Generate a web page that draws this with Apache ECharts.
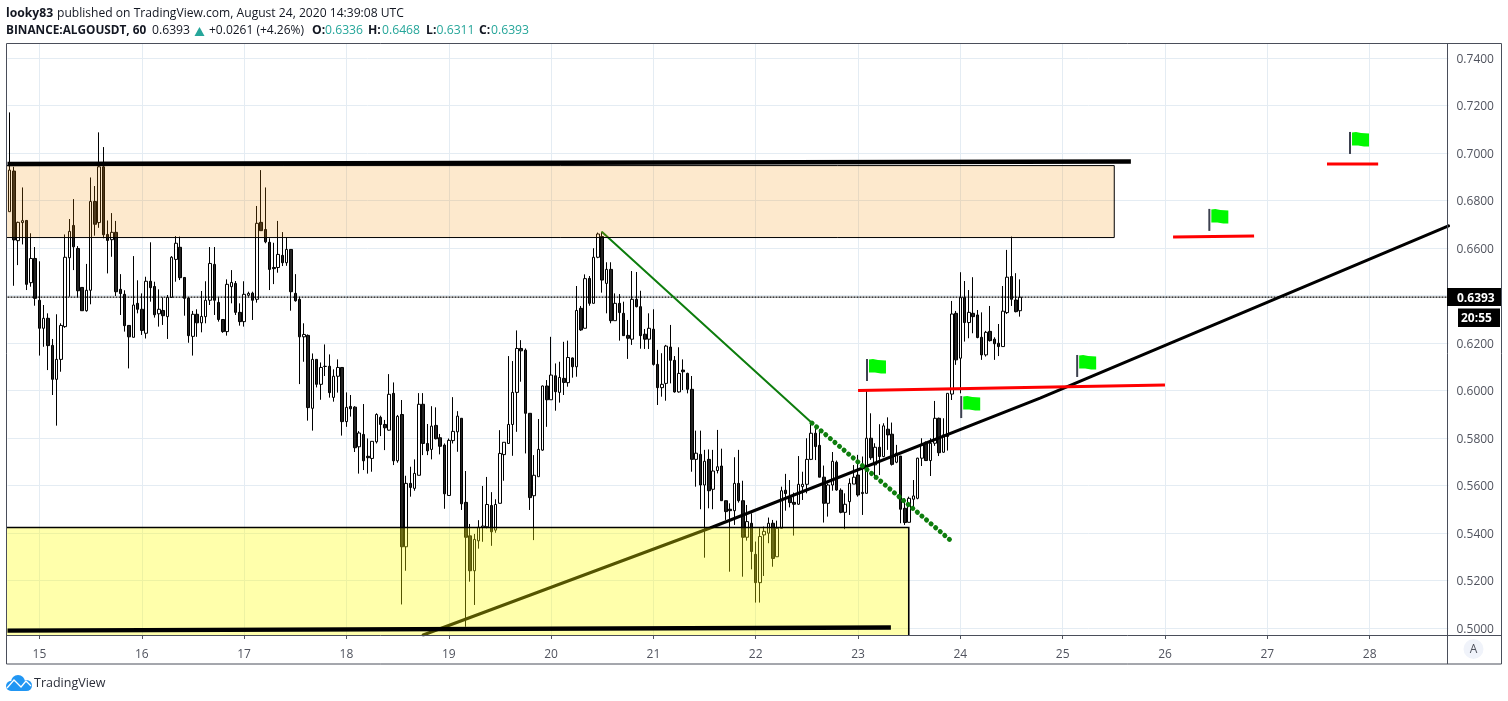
<!DOCTYPE html>
<html><head><meta charset="utf-8">
<style>html,body{margin:0;padding:0;background:#fff}#c{width:1508px;height:701px}</style>
<script src="https://cdn.jsdelivr.net/npm/echarts@6/dist/echarts.min.js"></script>
</head><body><div id="c"></div>
<script>
// Hourly candles from Aug 14 17:00 : [open, close, low, high]
const ohlc = [
[.6753,.6928,.6753,.7171],[.6924,.6634,.6441,.6942],[.6631,.6708,.6528,.6711],[.6707,.6715,.6615,.6855],[.6716,.6447,.6423,.6718],[.6454,.6556,.6437,.6662],[.6556,.6388,.6357,.6604],[.6380,.6262,.6147,.6544],[.6262,.6304,.6184,.6360],[.6304,.6189,.6086,.6325],
[.6190,.6047,.5981,.6217],[.6047,.6131,.5852,.6321],[.6131,.6274,.6079,.6283],[.6269,.6561,.6264,.6657],[.6559,.6670,.6395,.6722],[.6695,.6605,.6507,.6806],[.6598,.6420,.6392,.6608],[.6434,.6336,.6336,.6434],[.6336,.6422,.6332,.6533],[.6422,.6796,.6363,.6897],
[.6796,.6700,.6652,.6861],[.6707,.6942,.6685,.7087],[.6942,.6656,.6641,.7025],[.6657,.6632,.6493,.6716],[.6635,.6666,.6563,.6747],[.6666,.6416,.6398,.6714],[.6426,.6408,.6318,.6490],[.6405,.6273,.6248,.6422],[.6274,.6226,.6093,.6274],[.6224,.6360,.6224,.6566],
[.6367,.6342,.6325,.6464],[.6342,.6253,.6234,.6409],[.6241,.6460,.6219,.6479],[.6460,.6433,.6374,.6624],[.6438,.6319,.6307,.6458],[.6323,.6342,.6269,.6426],[.6337,.6315,.6276,.6392],[.6311,.6392,.6217,.6402],[.6392,.6561,.6392,.6566],[.6552,.6620,.6458,.6650],
[.6603,.6475,.6465,.6648],[.6476,.6388,.6315,.6476],[.6389,.6231,.6201,.6392],[.6228,.6321,.6147,.6335],[.6321,.6285,.6226,.6342],[.6285,.6312,.6245,.6419],[.6311,.6380,.6283,.6460],[.6380,.6535,.6360,.6604],[.6531,.6380,.6318,.6604],[.6371,.6299,.6290,.6392],
[.6299,.6248,.6243,.6299],[.6248,.6447,.6231,.6468],[.6437,.6455,.6367,.6507],[.6451,.6329,.6318,.6461],[.6329,.6290,.6273,.6367],[.6290,.6405,.6269,.6460],[.6401,.6409,.6395,.6416],[.6410,.6380,.6297,.6416],[.6384,.6704,.6370,.6777],[.6708,.6673,.6673,.6928],
[.6678,.6626,.6620,.6855],[.6624,.6510,.6423,.6641],[.6518,.6513,.6448,.6622],[.6518,.6573,.6496,.6714],[.6569,.6538,.6524,.6667],[.6538,.6594,.6525,.6645],[.6594,.6416,.6336,.6594],[.6409,.6378,.6374,.6490],[.6384,.6226,.6027,.6395],[.6226,.6236,.6121,.6283],
[.6232,.5928,.5873,.6236],[.5925,.6131,.5831,.6156],[.6131,.6026,.6013,.6131],[.6026,.6097,.5961,.6118],[.6101,.6102,.6061,.6194],[.6102,.5991,.5970,.6152],[.5971,.6060,.5953,.6089],[.6060,.6097,.5991,.6131],[.6097,.5869,.5810,.6097],[.5869,.5929,.5847,.5992],
[.5933,.5923,.5890,.5981],[.5930,.5759,.5741,.5934],[.5763,.5821,.5650,.5829],[.5815,.5704,.5665,.5943],[.5723,.5717,.5650,.5798],[.5714,.5786,.5658,.5786],[.5784,.5899,.5777,.5904],[.5887,.5857,.5808,.5894],[.5857,.5843,.5749,.5876],[.5833,.5984,.5831,.6069],
[.5988,.5704,.5686,.6034],[.5704,.5891,.5696,.5897],[.5899,.5342,.5099,.5960],[.5342,.5609,.5241,.5641],[.5609,.5592,.5553,.5679],[.5588,.5651,.5578,.5710],[.5643,.5942,.5643,.5989],[.5942,.5777,.5728,.5989],[.5777,.5746,.5728,.5859],[.5752,.5850,.5710,.5934],
[.5853,.5797,.5794,.5929],[.5801,.5765,.5731,.5817],[.5770,.5565,.5502,.5777],[.5558,.5790,.5558,.5798],[.5789,.5828,.5777,.5972],[.5826,.5892,.5742,.5913],[.5883,.5523,.5497,.5883],[.5529,.5382,.5005,.5661],[.5388,.5241,.5195,.5438],[.5241,.5373,.5097,.5396],
[.5367,.5424,.5334,.5454],[.5424,.5429,.5363,.5598],[.5426,.5520,.5419,.5636],[.5516,.5405,.5346,.5572],[.5412,.5520,.5401,.5542],[.5525,.5735,.5525,.5833],[.5730,.5782,.5620,.5782],[.5777,.5857,.5777,.6145],[.5857,.5992,.5725,.6124],[.5992,.6177,.5826,.6253],
[.6177,.6167,.6037,.6212],[.6170,.5904,.5735,.6177],[.5904,.5549,.5497,.5904],[.5557,.5643,.5370,.5728],[.5637,.5752,.5637,.5880],[.5749,.6019,.5746,.6021],[.6019,.5961,.5847,.6044],[.5961,.6065,.5961,.6226],[.6062,.5995,.5915,.6114],[.5992,.6055,.5949,.6121],
[.6051,.6034,.5981,.6205],[.6033,.6139,.6016,.6210],[.6137,.6100,.6054,.6139],[.6100,.6337,.6058,.6440],[.6346,.6255,.6251,.6356],[.6262,.6471,.6262,.6489],[.6472,.6367,.6357,.6482],[.6367,.6561,.6367,.6599],[.6561,.6659,.6557,.6665],[.6648,.6465,.6412,.6667],
[.6451,.6510,.6325,.6540],[.6510,.6294,.6283,.6540],[.6294,.6367,.6294,.6409],[.6367,.6328,.6210,.6406],[.6325,.6231,.6231,.6374],[.6232,.6220,.6133,.6297],[.6216,.6384,.6192,.6503],[.6384,.6353,.6350,.6499],[.6353,.6231,.6176,.6420],[.6237,.6216,.6175,.6259],
[.6216,.6262,.6175,.6325],[.6258,.6110,.6105,.6342],[.6110,.6012,.5939,.6171],[.6012,.6026,.5974,.6157],[.6030,.6187,.5957,.6192],[.6183,.6127,.6030,.6276],[.6127,.5994,.5991,.6145],[.5994,.6072,.5991,.6182],[.6086,.6079,.6002,.6131],[.6072,.6005,.5988,.6075],
[.6005,.5710,.5658,.6061],[.5710,.5736,.5595,.5831],[.5731,.5602,.5500,.5831],[.5602,.5702,.5296,.5750],[.5710,.5578,.5504,.5752],[.5584,.5661,.5500,.5750],[.5663,.5679,.5651,.5834],[.5682,.5536,.5536,.5755],[.5536,.5490,.5455,.5536],[.5500,.5494,.5237,.5525],
[.5494,.5609,.5434,.5719],[.5609,.5536,.5528,.5750],[.5536,.5382,.5216,.5620],[.5382,.5448,.5368,.5518],[.5441,.5322,.5247,.5483],[.5310,.5191,.5107,.5364],[.5191,.5385,.5107,.5420],[.5392,.5407,.5219,.5427],[.5399,.5441,.5357,.5465],[.5441,.5293,.5258,.5455],
[.5300,.5420,.5300,.5452],[.5420,.5578,.5420,.5595],[.5580,.5566,.5494,.5649],[.5549,.5528,.5508,.5623],[.5529,.5521,.5389,.5570],[.5521,.5605,.5518,.5724],[.5595,.5605,.5539,.5658],[.5605,.5710,.5567,.5799],[.5710,.5820,.5707,.5869],[.5820,.5764,.5707,.5855],
[.5769,.5635,.5635,.5837],[.5635,.5525,.5444,.5684],[.5525,.5602,.5469,.5609],[.5602,.5702,.5578,.5741],[.5698,.5581,.5578,.5705],[.5580,.5487,.5483,.5588],[.5487,.5521,.5416,.5567],[.5532,.5609,.5476,.5630],[.5606,.5635,.5606,.5686],[.5644,.5560,.5553,.5729],
[.5566,.5571,.5476,.5722],[.5567,.5799,.5567,.5998],[.5799,.5717,.5708,.5904],[.5687,.5761,.5626,.5778],[.5761,.5722,.5644,.5858],[.5722,.5851,.5719,.5862],[.5837,.5813,.5750,.5887],[.5816,.5689,.5684,.5865],[.5698,.5736,.5694,.5771],[.5724,.5500,.5441,.5724],
[.5504,.5444,.5434,.5546],[.5445,.5546,.5444,.5553],[.5542,.5556,.5504,.5623],[.5546,.5715,.5542,.5717],[.5715,.5774,.5682,.5799],[.5782,.5705,.5703,.5785],[.5705,.5778,.5640,.5799],[.5778,.5883,.5767,.5956],[.5883,.5738,.5724,.5886],[.5740,.5813,.5738,.5883],
[.5806,.5988,.5747,.5988],[.5985,.6322,.5960,.6377],[.6325,.6129,.6108,.6335],[.6136,.6391,.5988,.6498],[.6391,.6286,.6206,.6461],[.6286,.6329,.6220,.6423],[.6325,.6311,.6241,.6477],[.6318,.6223,.6220,.6339],[.6224,.6150,.6129,.6329],[.6150,.6245,.6143,.6251],
[.6249,.6210,.6206,.6356],[.6216,.6197,.6129,.6224],[.6199,.6185,.6145,.6280],[.6185,.6334,.6185,.6440],[.6328,.6477,.6322,.6592],[.6480,.6384,.6356,.6648],[.6381,.6332,.6329,.6494],[.6336,.6393,.6311,.6468]
];
const dayLabels = ['15','16','17','18','19','20','21','22','23','24','25','26','27','28'];
const yTicks = [0.50,0.52,0.54,0.56,0.58,0.60,0.62,0.64,0.66,0.68,0.70,0.72,0.74];
const lastPrice = 0.6393;
// drawings: [hours after Aug 15 00:00, price]
const topLine = [[-7.5,.6954],[256,.6964]];
const bottomLine = [[-7.5,.4989],[199.7,.5002]];
const trendLine = [[90,.49705],[157.3,.5421],[234.7,.5968],[330.5,.6693]];
const greenLine = [[131.96,.6667],[181.2,.5863]];
const greenDots = [[181.2,.5863],[213.9,.5366]];
const redA = [[192,.6000],[264,.6023]];
const redB = [[265.9,.6646],[284.9,.6651]];
const redC = [[302,.6954],[314,.6954]];
const orangeZone = [[-14,.6947,252.1,.6644]];
const yellowZone = [[-14,.5423,203.9,.48]];
const flags = [[194.1,.6040],[216.2,.5884],[243.4,.6057],[274.4,.6672],[307.4,.6996]];

const bandCount = 338, firstDayIdx = 7, hoursBefore = 7.5;
const categories = [];
for (let i = 0; i < bandCount; i++) {
  const k = i - firstDayIdx, d = Math.floor(k / 24);
  const h = ((k % 24) + 24) % 24;
  categories.push((d >= 0 && d < dayLabels.length ? dayLabels[d] : (d < 0 ? '14' : '29')) + ' ' + h + 'h');
}
const isDay = (i) => (i - firstDayIdx) % 24 === 0 && i >= firstDayIdx;
const GRID = '#e4ecf3', AXT = '#50535e', INK = '#131722', TEAL = '#26a69a', FONT = '"Open Sans", "Noto Sans", sans-serif';

const ln = (name, data, color, width, z, extra) => Object.assign({
  name, type: 'line', xAxisIndex: 1, yAxisIndex: 0, data, showSymbol: false, symbol: 'none', silent: true,
  lineStyle: Object.assign({ color, width, cap: 'round' }, extra || {}), z
}, {});
const zone = (name, data, fill, bw, z) => ({
  name, type: 'custom', xAxisIndex: 1, yAxisIndex: 0, data, z, silent: true, clip: true,
  encode: { x: [0, 2], y: [1, 3] },
  renderItem(p, api) {
    const a = api.coord([api.value(0), api.value(1)]), b = api.coord([api.value(2), api.value(3)]);
    return { type: 'rect', shape: { x: a[0], y: a[1], width: b[0] - a[0], height: b[1] - a[1] },
      style: { fill, stroke: '#000', lineWidth: bw } };
  }
});
const hdr = (x, y, text, bold, fill, size) => ({ type: 'text', z: 102, style: { x, y, text, fill: fill || INK, verticalAlign: 'middle', font: (bold ? 'bold ' : '') + (size || 12.2) + 'px ' + FONT } });

const chart = echarts.init(document.getElementById('c'), null, { renderer: 'canvas', width: 1508, height: 701 });
chart.setOption({
  animation: false,
  grid: { left: 7.5, top: 43.5, width: 1441, height: 591.5, containLabel: false },
  xAxis: [{
    type: 'category', data: categories, boundaryGap: true, position: 'bottom',
    axisLine: { show: false },
    axisTick: { show: true, interval: isDay, alignWithLabel: true, length: 4, lineStyle: { color: AXT } },
    axisLabel: { interval: isDay, formatter: v => '{a|' + v.split(' ')[0] + '}', margin: 12, hideOverlap: false,
      rich: { a: { color: AXT, fontSize: 12, fontFamily: FONT, padding: [2, 0, 0, 0] } } },
    splitLine: { show: true, interval: isDay, alignWithLabel: true, lineStyle: { color: GRID, width: 1 } }
  }, { type: 'value', show: false, min: -hoursBefore, max: bandCount - hoursBefore, splitLine: { show: false } }],
  yAxis: [{
    type: 'value', position: 'right', min: 0.49705, max: 0.74611, scale: true,
    axisLine: { show: false },
    axisTick: { show: true, length: 4, customValues: yTicks, lineStyle: { color: AXT } },
    axisLabel: { customValues: yTicks, formatter: v => '{a|' + v.toFixed(4) + '}', margin: 8,
      rich: { a: { color: AXT, fontSize: 12, fontFamily: FONT, padding: [3, 0, 0, 0] } } },
    splitLine: { show: false }
  }],
  series: [
    { name: 'grid', type: 'line', xAxisIndex: 1, data: [[0, lastPrice]], showSymbol: false, lineStyle: { opacity: 0 }, z: 1, silent: true,
      markLine: { silent: true, symbol: 'none', z: 1, label: { show: false }, lineStyle: { color: GRID, width: 1, type: 'solid' }, data: yTicks.map(v => ({ yAxis: v })) } },
    { name: 'ALGOUSDT', type: 'candlestick', data: ohlc, barWidth: 3, z: 2, silent: true, progressive: 0,
      itemStyle: { color: '#fff', color0: '#222', borderColor: '#000', borderColor0: '#000', borderWidth: 1 } },
    ln('last', [[-hoursBefore, lastPrice], [bandCount - hoursBefore, lastPrice]], '#000', 1.2, 3, { type: [2, 1], cap: 'butt' }),
    ln('trend', trendLine, '#000', 3, 3),
    ln('greenLine', greenLine, '#0d7d0d', 2, 3),
    ln('greenDots', greenDots, '#0d7d0d', 5, 3, { type: [0.1, 5.9] }),
    zone('orange', orangeZone, 'rgba(245,145,5,0.2)', 1, 4),
    zone('yellow', yellowZone, 'rgba(255,255,0,0.33)', 1.6, 4),
    ln('top', topLine, '#000', 4.4, 5, { cap: 'butt' }),
    ln('bottom', bottomLine, '#000', 4.4, 5, { cap: 'butt' }),
    ln('redA', redA, '#f00', 3, 5, { cap: 'butt' }),
    ln('redB', redB, '#f00', 3, 5, { cap: 'butt' }),
    ln('redC', redC, '#f00', 3, 5, { cap: 'butt' }),
    { name: 'flags', type: 'custom', xAxisIndex: 1, yAxisIndex: 0, data: flags, z: 6, silent: true, encode: { x: 0, y: 1 },
      renderItem(p, api) {
        const c = api.coord([api.value(0), api.value(1)]), x = c[0], y = c[1];
        return { type: 'group', children: [
          { type: 'rect', shape: { x: x - 1, y: y - 22, width: 2, height: 22 }, style: { fill: '#3d4150' } },
          { type: 'polygon', shape: { points: [[x+2,y-21.5],[x+6,y-22],[x+11,y-21],[x+19,y-20.5],[x+19,y-7.5],[x+14,y-7.5],[x+8,y-8.5],[x+2,y-8.5]] }, style: { fill: '#00f800' } }
        ] };
      } }
  ],
  graphic: [
    { type: 'rect', z: 100, shape: { x: 6.5, y: 43.5, width: 1495, height: 620.5 }, style: { fill: 'none', stroke: '#4a4e5a', lineWidth: 1 } },
    { type: 'line', z: 100, shape: { x1: 1447.5, y1: 43.5, x2: 1447.5, y2: 664 }, style: { stroke: '#4a4e5a', lineWidth: 1 } },
    { type: 'line', z: 100, shape: { x1: 6.5, y1: 635.5, x2: 1501.5, y2: 635.5 }, style: { stroke: '#4a4e5a', lineWidth: 1 } },
    { type: 'rect', z: 101, shape: { x: 1447, y: 288, width: 54, height: 18 }, style: { fill: '#000' } },
    { type: 'text', z: 102, style: { x: 1457, y: 298.5, text: lastPrice.toFixed(4), fill: '#fff', font: 'bold 12px ' + FONT, verticalAlign: 'middle' } },
    { type: 'rect', z: 101, shape: { x: 1458, y: 308.5, width: 42, height: 18.5 }, style: { fill: '#000' } },
    { type: 'text', z: 102, style: { x: 1461, y: 319, text: '20:55', fill: '#fff', font: 'bold 12px ' + FONT, verticalAlign: 'middle' } },
    { type: 'circle', z: 101, shape: { cx: 1473.5, cy: 649, r: 10 }, style: { fill: '#f0f3fa' } },
    { type: 'text', z: 102, style: { x: 1473.5, y: 650, text: 'A', fill: AXT, font: '12px ' + FONT, align: 'center', verticalAlign: 'middle' } },
    hdr(6, 14, 'looky83', true),
    hdr(57, 14, 'published on TradingView.com, August 24, 2020 14:39:08 UTC', false, INK, 12.1),
    hdr(6, 31, 'BINANCE:ALGOUSDT, 60', true, INK, 11.8),
    hdr(152, 31, '0.6393'),
    { type: 'polygon', z: 102, shape: { points: [[199.5,27],[204.5,36],[194.5,36]] }, style: { fill: TEAL } },
    hdr(209, 31, '+0.0261 (+4.26%)', false, INK, 12),
    hdr(312, 31, 'O:', true), hdr(325, 31, '0.6336', false, TEAL),
    hdr(368, 31, 'H:', true), hdr(382, 31, '0.6468', false, TEAL),
    hdr(426, 31, 'L:', true), hdr(436.5, 31, '0.6311', false, TEAL),
    hdr(479, 31, 'C:', true), hdr(491, 31, '0.6393', false, TEAL),
    { type: 'circle', z: 102, shape: { cx: 11, cy: 686, r: 5 }, style: { fill: '#2196f3' } },
    { type: 'circle', z: 102, shape: { cx: 18, cy: 682, r: 7 }, style: { fill: '#2196f3' } },
    { type: 'circle', z: 102, shape: { cx: 26.5, cy: 685.5, r: 5.5 }, style: { fill: '#2196f3' } },
    { type: 'rect', z: 102, shape: { x: 11, y: 684, width: 15, height: 7 }, style: { fill: '#2196f3' } },
    { type: 'polyline', z: 103, shape: { points: [[7,688],[14,680],[21,687],[26,681],[31,686]] }, style: { stroke: '#fff', fill: 'none', lineWidth: 1.3 } },
    { type: 'text', z: 102, style: { x: 34, y: 683.5, text: 'TradingView', fill: '#2a2e39', font: '12.5px ' + FONT, verticalAlign: 'middle' } }
  ]
});
</script></body></html>
